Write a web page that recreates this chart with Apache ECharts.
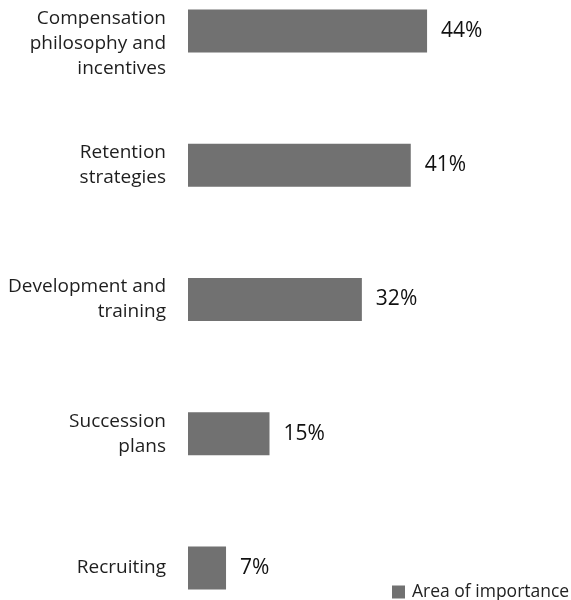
<!DOCTYPE html>
<html>
<head>
<meta charset="utf-8">
<script src="https://cdn.jsdelivr.net/npm/echarts@6/dist/echarts.min.js"></script>
<style>
  html, body { margin: 0; padding: 0; background: #fff; }
  #chart { width: 571px; height: 600px; }
</style>
</head>
<body>
<div id="chart"></div>
<script>
// Survey areas, listed top to bottom
const categories = [
  'Compensation\nphilosophy and\nincentives',
  'Retention\nstrategies',
  'Development and\ntraining',
  'Succession\nplans',
  'Recruiting'
];
// Share of respondents (%)
const values = [44, 41, 32, 15, 7];
const seriesName = 'Area of importance';

const chart = echarts.init(document.getElementById('chart'), null, { renderer: 'canvas' });

chart.setOption({
  animation: false,
  backgroundColor: '#ffffff',
  textStyle: { fontFamily: '"Open Sans", sans-serif' },
  grid: {
    left: 188,
    top: 31,
    width: 326,
    height: 537,
    containLabel: false,
    outerBoundsMode: 'none'
  },
  legend: {
    data: [seriesName],
    left: 392,
    top: 583,
    icon: 'rect',
    itemWidth: 13,
    itemHeight: 13,
    itemGap: 0,
    padding: 0,
    textStyle: {
      fontFamily: '"Open Sans", sans-serif',
      fontSize: 17.5,
      color: '#222222',
      padding: [0, 0, 0, 2]
    }
  },
  xAxis: {
    type: 'value',
    min: 0,
    max: 60,
    show: false
  },
  yAxis: {
    type: 'category',
    data: categories,
    inverse: true,
    boundaryGap: false,
    axisLine: { show: false },
    axisTick: { show: false },
    splitLine: { show: false },
    axisLabel: {
      margin: 22,
      fontFamily: '"Open Sans", sans-serif',
      fontSize: 19,
      lineHeight: 25,
      color: '#1e1e1e',
      align: 'right',
      // the three-line top label would run off the canvas; push it down a line-half
      formatter: (v, i) => (i === 0 ? '\n' + v : v)
    }
  },
  series: [{
    name: seriesName,
    type: 'bar',
    data: values,
    barWidth: 43,
    itemStyle: { color: '#717171' },
    label: {
      show: true,
      position: 'right',
      distance: 14,
      formatter: '{c}%',
      fontFamily: '"Open Sans", sans-serif',
      fontSize: 21,
      color: '#111111'
    }
  }]
});
</script>
</body>
</html>
